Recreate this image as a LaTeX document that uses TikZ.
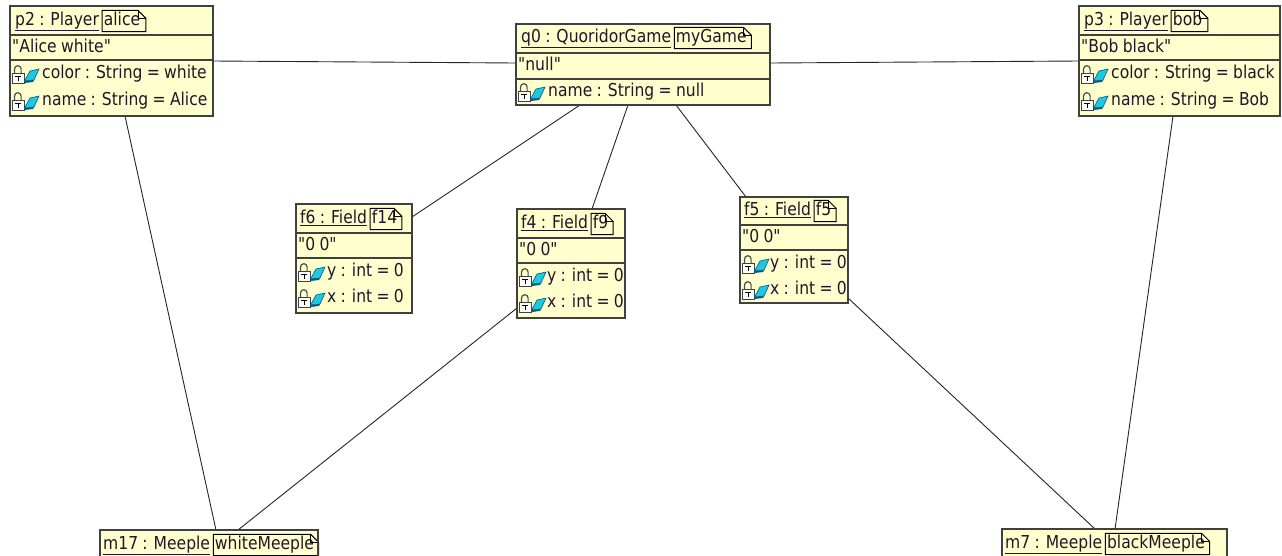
\documentclass[tikz,border=0pt]{standalone}
\usepackage{fontspec}
\setmainfont{DejaVu Sans}[FakeStretch=0.875, Ligatures=TeXOff]
\usetikzlibrary{calc}
\definecolor{objfill}{RGB}{255,255,206}
\definecolor{objline}{RGB}{64,64,64}
\definecolor{txt}{RGB}{35,20,40}
\definecolor{cyanic}{RGB}{30,200,225}
\definecolor{cyandark}{RGB}{0,90,130}
\newcommand{\objfont}{\fontsize{17.8}{20}\selectfont\spaceskip=4.3pt\relax}
\tikzset{
  objbox/.style={draw=objline, line width=1.4pt, fill=objfill, anchor=north west, inner sep=0pt, outer sep=0pt},
  objframe/.style={draw=objline, line width=1.4pt},
  rowline/.style={draw=objline, line width=1.2pt},
  lbl/.style={anchor=west, inner sep=0pt, text height=13pt, text depth=4pt, font=\objfont, text=txt},
  tagtext/.style={anchor=west, inner xsep=1.5pt, inner ysep=2pt, text height=13pt, text depth=4pt, font=\objfont, text=txt},
  tagline/.style={draw=black, line width=1pt},
  conn/.style={draw=black!85, line width=0.9pt},
}
% tag outline with dog-ear
\newcommand{\tagnote}[1]{%
  \draw[tagline] (#1.south west) -- (#1.north west) -- ($(#1.north east)+(-8,0)$) -- ($(#1.north east)+(0,8)$) -- (#1.south east) -- cycle;
  \draw[line width=0.8pt] ($(#1.north east)+(-8,0)$) -- ($(#1.north east)+(-8,8)$) -- ($(#1.north east)+(0,8)$);
}
% lock + cyan attribute icon, #1 = x of box left, #2 = row centre y
\newcommand{\attricon}[2]{%
  \begin{scope}[shift={(#1+1,#2)}]
    \draw[draw=black!70, line width=1.2pt] (3.5,-1) -- (3.5,-5) arc[start angle=180, end angle=360, radius=3.3] -- (10.1,-1);
    \filldraw[fill=white, draw=black!75, line width=0.9pt] (1,-1) rectangle (13,9);
    \draw[black, line width=1pt] (4,2) -- (10,2) (7,2) -- (7,7);
    \filldraw[fill=cyanic, draw=cyandark, line width=0.6pt] (13.5,7) -- (19,-3) -- (28,-5) -- (23,6) -- cycle;
    \fill[cyandark] (13.5,7) -- (23,6) -- (22,8) -- (13.5,9) -- cycle;
  \end{scope}
}
\begin{document}
\begin{tikzpicture}[x=1pt, y=-1pt]
\useasboundingbox (0,0) rectangle (1282,555);
\clip (0,0) rectangle (1282,555);
\fill[white] (0,0) rectangle (1282,555);

% ---------- connectors ----------
\coordinate (p2r) at (213,61);
\coordinate (q0l) at (516,63);
\coordinate (q0r) at (770,63);
\coordinate (p3l) at (1079,61);
\coordinate (q0b1) at (580,105);
\coordinate (q0b2) at (628,105);
\coordinate (q0b3) at (676,105);
\coordinate (f6r) at (412,217);
\coordinate (f4t) at (592,209);
\coordinate (f5t) at (746,197);
\coordinate (p2b) at (125,116);
\coordinate (m17a) at (216,530);
\coordinate (f4l) at (517,308);
\coordinate (m17b) at (238,530);
\coordinate (f5r) at (848,298);
\coordinate (m7a) at (1095,529);
\coordinate (p3b) at (1173,116);
\coordinate (m7b) at (1115,529);

\draw[conn] (p2r) -- (q0l);
\draw[conn] (q0r) -- (p3l);
\draw[conn] (q0b1) -- (f6r);
\draw[conn] (q0b2) -- (f4t);
\draw[conn] (q0b3) -- (f5t);
\draw[conn] (p2b) -- (m17a);
\draw[conn] (f4l) -- (m17b);
\draw[conn] (f5r) -- (m7a);
\draw[conn] (p3b) -- (m7b);

% ---------- p2 ----------
\node[objbox, minimum width=203pt, minimum height=110pt] (p2) at (10,6) {};
\draw[rowline] (10,35) -- (213,35);
\draw[rowline] (10,60) -- (213,60);
\node[lbl] (p2t) at (15,21) {\underline{p2 : Player}};
\node[tagtext] (p2tag) at ($(p2t.east)+(3,0)$) {alice\kern4pt};
\tagnote{p2tag}
\node[lbl] (p2s) at (12,48) {"Alice white"};
\attricon{10}{74}
\node[lbl] (p2a1) at (42,74) {color : String = white};
\attricon{10}{101}
\node[lbl] (p2a2) at (42,101) {name : String = Alice};

% ---------- q0 ----------
\node[objbox, minimum width=254pt, minimum height=81pt] (q0) at (516,24) {};
\draw[rowline] (516,53) -- (770,53);
\draw[rowline] (516,79) -- (770,79);
\node[lbl] (q0t) at (521,38) {\underline{q0 : QuoridorGame}};
\node[tagtext] (q0tag) at ($(q0t.east)+(3,0)$) {myGame\kern3pt};
\tagnote{q0tag}
\node[lbl] (q0s) at (518,66) {"null"};
\attricon{516}{92}
\node[lbl] (q0a1) at (548,92) {name : String = null};

% ---------- p3 ----------
\node[objbox, minimum width=201pt, minimum height=110pt] (p3) at (1079,6) {};
\draw[rowline] (1079,35) -- (1280,35);
\draw[rowline] (1079,60) -- (1280,60);
\node[lbl] (p3t) at (1084,21) {\underline{p3 : Player}};
\node[tagtext] (p3tag) at ($(p3t.east)+(3,0)$) {bob\kern4pt};
\tagnote{p3tag}
\node[lbl] (p3s) at (1081,48) {"Bob black"};
\attricon{1079}{74}
\node[lbl] (p3a1) at (1111,74) {color : String = black};
\attricon{1079}{101}
\node[lbl] (p3a2) at (1111,101) {name : String = Bob};

% ---------- f6 ----------
\node[objbox, minimum width=116pt, minimum height=109pt] (f6) at (296,204) {};
\draw[rowline] (296,233) -- (412,233);
\draw[rowline] (296,258) -- (412,258);
\node[lbl] (f6t) at (300,219) {\underline{f6 : Field}};
\node[tagtext] (f6tag) at ($(f6t.east)+(3,0)$) {f14\kern3pt};
\tagnote{f6tag}
\node[lbl] (f6s) at (298,246) {"0 0"};
\attricon{296}{272}
\node[lbl] (f6a1) at (327,272) {y : int = 0};
\attricon{296}{298}
\node[lbl] (f6a2) at (327,298) {x : int = 0};

% ---------- f4 ----------
\node[objbox, minimum width=108pt, minimum height=109pt] (f4) at (517,209) {};
\draw[rowline] (517,238) -- (625,238);
\draw[rowline] (517,263) -- (625,263);
\node[lbl] (f4t) at (521,224) {\underline{f4 : Field}};
\node[tagtext] (f4tag) at ($(f4t.east)+(3,0)$) {f9\kern3pt};
\tagnote{f4tag}
\node[lbl] (f4s) at (519,251) {"0 0"};
\attricon{517}{277}
\node[lbl] (f4a1) at (547,277) {y : int = 0};
\attricon{517}{303}
\node[lbl] (f4a2) at (547,303) {x : int = 0};

% ---------- f5 ----------
\node[objbox, minimum width=108pt, minimum height=106pt] (f5) at (740,197) {};
\draw[rowline] (740,225) -- (848,225);
\draw[rowline] (740,250) -- (848,250);
\node[lbl] (f5t) at (744,211) {\underline{f5 : Field}};
\node[tagtext] (f5tag) at ($(f5t.east)+(3,0)$) {f5\kern3pt};
\tagnote{f5tag}
\node[lbl] (f5s) at (742,238) {"0 0"};
\attricon{740}{264}
\node[lbl] (f5a1) at (770,264) {y : int = 0};
\attricon{740}{290}
\node[lbl] (f5a2) at (770,290) {x : int = 0};

% ---------- m17 ----------
\node[objbox, minimum width=218pt, minimum height=40pt] (m17) at (100,530) {};
\node[lbl] (m17t) at (103,545) {\underline{m17 : Meeple}};
\node[tagtext] (m17tag) at ($(m17t.east)+(3,0)$) {whiteMeeple\kern3pt};
\tagnote{m17tag}

% ---------- m7 ----------
\node[objbox, minimum width=225pt, minimum height=40pt] (m7) at (1002,529) {};
\node[lbl] (m7t) at (1005,544) {\underline{m7 : Meeple}};
\node[tagtext] (m7tag) at ($(m7t.east)+(3,0)$) {blackMeeple\kern3pt};
\tagnote{m7tag}

% ---------- frames drawn over the text (text is cut at the border) ----------
\draw[objframe] (p2.north west) rectangle (p2.south east);
\draw[objframe] (q0.north west) rectangle (q0.south east);
\draw[objframe] (p3.north west) rectangle (p3.south east);
\draw[objframe] (f6.north west) rectangle (f6.south east);
\draw[objframe] (f4.north west) rectangle (f4.south east);
\draw[objframe] (f5.north west) rectangle (f5.south east);
\draw[objframe] (m17.north west) rectangle (m17.south east);
\draw[objframe] (m7.north west) rectangle (m7.south east);
\end{tikzpicture}
\end{document}
